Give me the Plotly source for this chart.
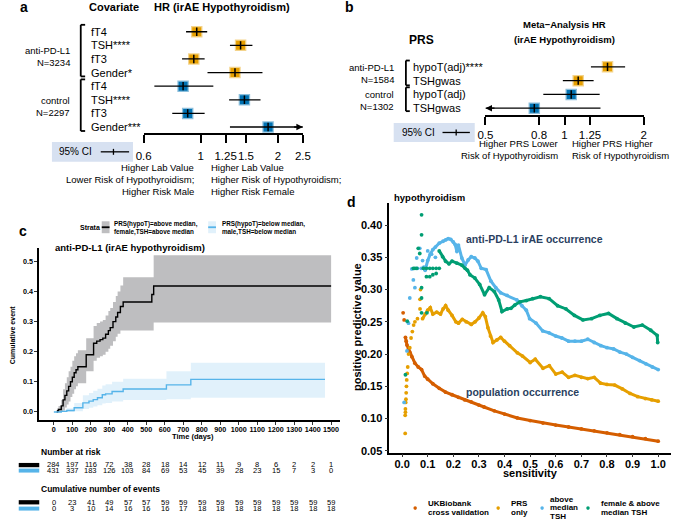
import numpy as np
import plotly.graph_objects as go

W, H = 679, 524
FONT = "Liberation Sans"
ORANGE = "#E69F00"
BLUE = "#0072B2"
ORANGE_L = "rgba(230,159,0,0.45)"
BLUE_L = "rgba(0,114,178,0.45)"

# ---------------- panel a data ----------------
a_labels = ["fT4", "TSH****", "fT3", "Gender*", "fT4", "TSH****", "fT3", "Gender***"]
a_grp = [0, 0, 0, 0, 1, 1, 1, 1]
a_hr = [0.965, 1.43, 0.94, 1.36, 0.854, 1.48, 0.89, 1.83]
a_lo = [0.877, 1.30, 0.846, 1.063, 0.66, 1.29, 0.775, 1.30]
a_hi = [1.06, 1.59, 1.036, 1.74, 1.12, 1.71, 1.036, 3.0]
a_ticks = [0.6, 1, 1.25, 1.5, 2, 2.5]
a_ticktext = ["0.6", "1", "1.25", "1.5", "2", "2.5"]
a_groups = ["anti-PD-L1<br>N=3234", "control<br>N=2297"]

# ---------------- panel b data ----------------
b_labels = ["hypoT(adj)****", "TSHgwas", "hypoT(adj)", "TSHgwas"]
b_grp = [0, 0, 1, 1]
b_hr = [1.457, 1.127, 1.06, 0.767]
b_lo = [1.26, 0.985, 0.83, 0.40]
b_hi = [1.70, 1.29, 1.36, 1.37]
b_ticks = [0.5, 0.8, 1, 1.25, 2]
b_ticktext = ["0.5", "0.8", "1", "1.25", "2"]
b_groups = ["anti-PD-L1<br>N=1584", "control<br>N=1302"]

# ---------------- panel c data ----------------
c_t = [15, 20, 25, 40, 50, 60, 70, 80, 90, 100, 110, 120, 130, 175, 215, 232, 250, 265, 280, 295, 305,
       320, 335, 345, 360, 375, 530, 540, 1500]
c_y = [0, 0.004, 0.008, 0.02, 0.04, 0.055, 0.07, 0.085, 0.10, 0.115, 0.13, 0.14, 0.15, 0.19, 0.228,
       0.235, 0.24, 0.245, 0.258, 0.27, 0.28, 0.30, 0.315, 0.33, 0.35, 0.365, 0.39, 0.418, 0.418]
c_lo = [0, 0, 0, 0, 0.005, 0.015, 0.025, 0.035, 0.05, 0.06, 0.075, 0.085, 0.095, 0.135, 0.17, 0.18,
        0.185, 0.19, 0.2, 0.21, 0.22, 0.235, 0.25, 0.26, 0.27, 0.27, 0.27, 0.297, 0.297]
c_hi = [0, 0.012, 0.02, 0.04, 0.075, 0.095, 0.115, 0.135, 0.15, 0.17, 0.185, 0.195, 0.205, 0.245,
        0.285, 0.295, 0.3, 0.305, 0.32, 0.335, 0.345, 0.365, 0.385, 0.40, 0.42, 0.447, 0.447, 0.52, 0.52]
c2_t = [0, 40, 70, 110, 157, 190, 213, 236, 262, 280, 315, 375, 609, 741, 1467]
c2_y = [0, 0.002, 0.005, 0.014, 0.03, 0.036, 0.041, 0.047, 0.057, 0.06, 0.068, 0.076, 0.09, 0.108, 0.108]
c2_lo = [0, 0, 0, 0.002, 0.01, 0.014, 0.018, 0.022, 0.028, 0.03, 0.035, 0.04, 0.042, 0.047, 0.047]
c2_hi = [0, 0.006, 0.012, 0.03, 0.055, 0.063, 0.07, 0.077, 0.088, 0.092, 0.1, 0.11, 0.135, 0.163, 0.163]
c_time_ticks = [0, 100, 200, 300, 400, 500, 600, 700, 800, 900, 1000, 1100, 1200, 1300, 1400, 1500]
risk_black = [284, 197, 116, 72, 38, 28, 18, 14, 12, 11, 9, 8, 6, 2, 2, 1]
risk_blue = [431, 337, 183, 126, 103, 84, 69, 53, 45, 39, 28, 23, 15, 7, 3, 0]
events_black = [0, 23, 41, 49, 57, 57, 59, 59, 59, 59, 59, 59, 59, 59, 59, 59]
events_blue = [0, 3, 10, 14, 16, 16, 16, 17, 18, 18, 18, 18, 18, 18, 18, 18]

# ---------------- panel d data ----------------
ukb_early_s = [0.004, 0.008]
ukb_early_p = [0.264, 0.253]
ukb_s = [0.013, 0.016, 0.019, 0.025, 0.03, 0.038, 0.05, 0.063, 0.076, 0.088, 0.10, 0.12, 0.145, 0.17,
         0.195, 0.22, 0.245, 0.27, 0.30, 0.32, 0.36, 0.40, 0.45, 0.50, 0.55, 0.60, 0.65, 0.70, 0.75,
         0.80, 0.85, 0.90, 0.95, 1.00]
ukb_p = [0.226, 0.22, 0.214, 0.208, 0.203, 0.196, 0.186, 0.180, 0.176, 0.166, 0.161, 0.154, 0.147,
         0.141, 0.137, 0.133, 0.129, 0.126, 0.121, 0.118, 0.112, 0.107, 0.101, 0.097, 0.093, 0.090,
         0.087, 0.084, 0.081, 0.078, 0.075, 0.072, 0.069, 0.065]
prs_early_s = [0.012, 0.012, 0.013, 0.013, 0.014, 0.015, 0.016, 0.017, 0.018, 0.02, 0.022, 0.025, 0.03,
               0.035, 0.04, 0.045, 0.05, 0.06, 0.07, 0.07, 0.072]
prs_early_p = [0.077, 0.105, 0.11, 0.115, 0.125, 0.13, 0.14, 0.15, 0.16, 0.17, 0.18, 0.20, 0.21, 0.225,
               0.235, 0.245, 0.25, 0.255, 0.27, 0.285, 0.30]
prs_s = [0.08, 0.09, 0.10, 0.11, 0.12, 0.135, 0.15, 0.16, 0.17, 0.18, 0.195, 0.21, 0.22, 0.235, 0.25,
         0.27, 0.285, 0.30, 0.315, 0.325, 0.335, 0.345, 0.355, 0.37, 0.385, 0.40, 0.42, 0.45, 0.47,
         0.50, 0.52, 0.55, 0.575, 0.60, 0.625, 0.65, 0.675, 0.70, 0.725, 0.75, 0.775, 0.80, 0.83,
         0.86, 0.89, 0.92, 0.95, 0.975, 1.0]
prs_p = [0.255, 0.262, 0.268, 0.272, 0.262, 0.265, 0.262, 0.27, 0.275, 0.268, 0.26, 0.25, 0.248,
         0.254, 0.25, 0.246, 0.25, 0.256, 0.264, 0.258, 0.241, 0.228, 0.218, 0.222, 0.226, 0.22,
         0.213, 0.202, 0.197, 0.187, 0.192, 0.178, 0.182, 0.169, 0.172, 0.164, 0.167, 0.164, 0.162,
         0.164, 0.155, 0.153, 0.152, 0.146, 0.139, 0.134, 0.131, 0.129, 0.127]
tsh_early_s = [0.008, 0.019, 0.025, 0.03, 0.038, 0.044, 0.05, 0.057, 0.069, 0.06, 0.075, 0.08, 0.085,
               0.1, 0.115, 0.13]
tsh_early_p = [0.125, 0.205, 0.248, 0.287, 0.332, 0.315, 0.303, 0.349, 0.364, 0.333, 0.333, 0.345,
               0.335, 0.36, 0.355, 0.35]
tsh_s = [0.09, 0.10, 0.11, 0.12, 0.13, 0.145, 0.16, 0.17, 0.18, 0.19, 0.20, 0.207, 0.214, 0.22, 0.233,
         0.246, 0.258, 0.27, 0.284, 0.296, 0.309, 0.328, 0.347, 0.366, 0.385, 0.41, 0.448, 0.468,
         0.485, 0.498, 0.523, 0.549, 0.574, 0.60, 0.624, 0.65, 0.675, 0.70, 0.725, 0.75, 0.776, 0.80,
         0.826, 0.851, 0.876, 0.90, 0.927, 0.952, 0.977, 1.0]
tsh_p = [0.33, 0.345, 0.355, 0.362, 0.366, 0.372, 0.375, 0.377, 0.379, 0.378, 0.374, 0.37, 0.359, 0.369,
         0.349, 0.338, 0.346, 0.351, 0.349, 0.344, 0.333, 0.331, 0.313, 0.303, 0.295, 0.291, 0.284,
         0.275, 0.268, 0.255, 0.248, 0.236, 0.233, 0.228, 0.225, 0.22, 0.22, 0.22, 0.223, 0.218,
         0.213, 0.21, 0.208, 0.203, 0.2, 0.195, 0.19, 0.185, 0.18, 0.176]
grn_early_s = [0.013, 0.02, 0.044, 0.05, 0.057, 0.063, 0.069, 0.076, 0.076, 0.076, 0.076, 0.076, 0.083,
               0.095, 0.108, 0.12, 0.133, 0.145, 0.095, 0.108, 0.12, 0.133, 0.097]
grn_early_p = [0.168, 0.251, 0.333, 0.333, 0.333, 0.364, 0.356, 0.416, 0.385, 0.303, 0.287, 0.264,
               0.333, 0.333, 0.333, 0.333, 0.333, 0.333, 0.32, 0.32, 0.323, 0.325, 0.264]
grn_s = [0.145, 0.158, 0.17, 0.183, 0.195, 0.214, 0.233, 0.246, 0.255, 0.265, 0.284, 0.303, 0.322,
         0.34, 0.36, 0.377, 0.39, 0.41, 0.425, 0.44, 0.46, 0.485, 0.51, 0.54, 0.574, 0.607, 0.64,
         0.673, 0.706, 0.74, 0.772, 0.806, 0.839, 0.872, 0.905, 0.938, 0.971, 0.996, 0.998]
grn_p = [0.36, 0.351, 0.344, 0.34, 0.344, 0.341, 0.338, 0.333, 0.33, 0.323, 0.318, 0.308, 0.292,
         0.303, 0.297, 0.284, 0.266, 0.27, 0.271, 0.276, 0.281, 0.283, 0.286, 0.289, 0.286, 0.275,
         0.27, 0.26, 0.253, 0.255, 0.26, 0.263, 0.255, 0.248, 0.242, 0.245, 0.237, 0.229, 0.218]
d_xticks = [0.0, 0.1, 0.2, 0.3, 0.4, 0.5, 0.6, 0.7, 0.8, 0.9, 1.0]
d_yticks = [0.05, 0.10, 0.15, 0.20, 0.25, 0.30, 0.35, 0.40]

C_RED, C_YEL, C_SKY, C_GRN = "#D55E00", "#E69F00", "#56B4E9", "#009E73"

fig = go.Figure()


def px(x):
    return x / W


def py(y):
    return 1 - y / H


def ann(text, x, y, size, bold=False, xanchor="left", align="left", angle=0, color="black"):
    fig.add_annotation(text=text, x=px(x), y=py(y), xref="paper", yref="paper", showarrow=False,
                       xanchor=xanchor, yanchor="middle", align=align, textangle=angle,
                       font=dict(family=FONT, size=size, color=color,
                                 weight="bold" if bold else "normal"))


def line_px(x0, y0, x1, y1, w=1.5, color="black"):
    fig.add_shape(type="line", xref="paper", yref="paper", x0=px(x0), y0=py(y0), x1=px(x1), y1=py(y1),
                  line=dict(color=color, width=w))


def rect_px(x0, y0, x1, y1, fill, lw=0, lc="black"):
    fig.add_shape(type="rect", xref="paper", yref="paper", x0=px(x0), y0=py(y0), x1=px(x1), y1=py(y1),
                  fillcolor=fill, line=dict(width=lw, color=lc))


def forest(xa, ya, labels, grp, hr, lo, hi, xmin, xmax, label_x, rowsize):
    n = len(labels)
    rows = list(range(n - 1, -1, -1))
    cols = [ORANGE, BLUE]
    lcols = [ORANGE_L, BLUE_L]
    for g in (0, 1):
        idx = [i for i in range(n) if grp[i] == g]
        fig.add_trace(go.Scatter(x=[hr[i] for i in idx], y=[rows[i] for i in idx], mode="markers",
                                 xaxis=xa, yaxis=ya,
                                 marker=dict(symbol="square", size=9, color=cols[g],
                                             line=dict(width=2.5, color=lcols[g]))))
    xs, ys = [], []
    for i in range(n):
        xs += [max(lo[i], xmin), min(hi[i], xmax), None]
        ys += [rows[i], rows[i], None]
    fig.add_trace(go.Scatter(x=xs, y=ys, mode="lines", xaxis=xa, yaxis=ya,
                             line=dict(color="black", width=1.3)))
    fig.add_trace(go.Scatter(x=hr, y=rows, mode="markers", xaxis=xa, yaxis=ya,
                             marker=dict(symbol="line-ns-open", size=6, color="black",
                                         line=dict(width=1.5, color="black"))))
    xr = xa
    yr = ya
    for i in range(n):
        if hi[i] > xmax:
            fig.add_annotation(x=np.log10(xmax), y=rows[i], ax=np.log10(xmax) - 0.04, ay=rows[i],
                               xref=xr, yref=yr, axref=xr, ayref=yr, text="", showarrow=True,
                               arrowhead=2, arrowsize=1, arrowwidth=1.3, arrowcolor="black")
        if lo[i] < xmin:
            fig.add_annotation(x=np.log10(xmin), y=rows[i], ax=np.log10(xmin) + 0.04, ay=rows[i],
                               xref=xr, yref=yr, axref=xr, ayref=yr, text="", showarrow=True,
                               arrowhead=2, arrowsize=1, arrowwidth=1.3, arrowcolor="black")
        fig.add_annotation(text=labels[i], x=px(label_x), y=rows[i], xref="paper", yref=yr,
                           showarrow=False, xanchor="left", yanchor="middle",
                           font=dict(family=FONT, size=rowsize, color="black"))
    fig.add_shape(type="line", xref=xr, yref=yr, x0=0, x1=0, y0=-0.5, y1=n - 0.49,
                  line=dict(color="black", width=1.5))


# ---------------- panel a ----------------
forest("x", "y", a_labels, a_grp, a_hr, a_lo, a_hi, 0.6, 2.5, 83, 11)
ann("a", 16, 7, 14, bold=True, xanchor="center")
ann("Covariate", 109, 7, 11, bold=True, xanchor="center")
ann("HR (irAE Hypothyroidism)", 219, 7, 11, bold=True, xanchor="center")
ann(a_groups[0], 66, 56.5, 9.5, xanchor="right", align="right")
ann(a_groups[1], 66, 107.5, 9.5, xanchor="right", align="right")
for (y0, y1) in [(25, 77), (80, 132)]:
    line_px(74.5, y0, 74.5, y1, 1.8)
    line_px(74.5, y0, 79, y0, 1.8)
    line_px(74.5, y1, 79, y1, 1.8)
rect_px(45, 143, 128, 163, "#D7E1F1")
ann("95% CI", 50, 153, 10)
line_px(95, 153, 124, 153, 1.3)
line_px(108, 150, 108, 156, 1.3)
ann("Higher Lab Value", 193, 169, 9.5, xanchor="right")
ann("Lower Risk of Hypothyroidism;", 193, 181, 9.5, xanchor="right")
ann("Higher Risk Male", 193, 193, 9.5, xanchor="right")
ann("Higher Lab Value", 206, 169, 9.5)
ann("Higher Risk of Hypothyroidism;", 206, 181, 9.5)
ann("Higher Risk Female", 206, 193, 9.5)

# ---------------- panel b ----------------
forest("x2", "y2", b_labels, b_grp, b_hr, b_lo, b_hi, 0.5, 2.0, 413, 11)
ann("b", 350, 7, 14, bold=True, xanchor="center")
ann("Meta\u2212Analysis HR", 570, 25, 9.5, bold=True, xanchor="center")
ann("(irAE Hypothyroidism)", 570, 40, 9.5, bold=True, xanchor="center")
ann("PRS", 423, 40, 12, bold=True, xanchor="center")
ann(b_groups[0], 397, 74.5, 9.5, xanchor="right", align="right")
ann(b_groups[1], 397, 101, 9.5, xanchor="right", align="right")
for (y0, y1) in [(61, 86), (88, 112)]:
    line_px(407.5, y0, 407.5, y1, 1.8)
    line_px(407.5, y0, 411.5, y0, 1.8)
    line_px(407.5, y1, 411.5, y1, 1.8)
rect_px(395, 124, 478, 143, "#D7E1F1")
ann("95% CI", 401, 133.5, 10)
line_px(445, 133.5, 473, 133.5, 1.3)
line_px(459, 130.5, 459, 136.5, 1.3)
ann("Higher PRS Lower", 565, 145, 9.5, xanchor="right")
ann("Risk of Hypothyroidism", 565, 157, 9.5, xanchor="right")
ann("Higher PRS Higher", 576, 145, 9.5)
ann("Risk of Hypothyroidism", 576, 157, 9.5)

# ---------------- panel c ----------------
fig.add_trace(go.Scatter(x=c_t, y=c_hi, mode="lines", line=dict(width=0, shape="hv"),
                         xaxis="x3", yaxis="y3"))
fig.add_trace(go.Scatter(x=c_t, y=c_lo, mode="lines", line=dict(width=0, shape="hv"), fill="tonexty",
                         fillcolor="rgb(190,190,192)", xaxis="x3", yaxis="y3"))
fig.add_trace(go.Scatter(x=c2_t, y=c2_hi, mode="lines", line=dict(width=0, shape="hv"),
                         xaxis="x3", yaxis="y3"))
fig.add_trace(go.Scatter(x=c2_t, y=c2_lo, mode="lines", line=dict(width=0, shape="hv"), fill="tonexty",
                         fillcolor="rgba(86,180,233,0.18)", xaxis="x3", yaxis="y3"))
fig.add_trace(go.Scatter(x=c_t, y=c_y, mode="lines", line=dict(width=1.4, shape="hv", color="black"),
                         xaxis="x3", yaxis="y3"))
fig.add_trace(go.Scatter(x=c2_t, y=c2_y, mode="lines", line=dict(width=1.4, shape="hv", color=C_SKY),
                         xaxis="x3", yaxis="y3"))
ann("c", 15, 233, 14, bold=True, xanchor="center")
ann("Strata", 72, 229.5, 7, bold=True)
rect_px(96, 223, 104, 235, "rgb(190,190,192)")
line_px(96, 229, 104, 229, 1.8)
ann("PRS(hypoT)=above median,<br>female,TSH=above median", 107, 230, 6.3, bold=True)
rect_px(205, 223, 213, 235, "rgba(86,180,233,0.18)")
line_px(205, 229, 213, 229, 1.8, C_SKY)
ann("PRS(hypoT)=below median,<br>male,TSH=below median", 217, 230, 6.3, bold=True)
ann("anti-PD-L1 (irAE hypothyroidism)", 46, 249, 9.5, bold=True)
ann("Cumulative event", 5, 337, 7, bold=True, xanchor="center", angle=-90)
ann("Time (days)", 189, 440, 7.5, bold=True, xanchor="center")
ann("Number at risk", 32, 455, 8.5, bold=True)
ann("Cumulative number of events", 32, 493, 8.5, bold=True)
rect_px(11, 466.5, 32, 470.8, "black")
rect_px(11, 472.2, 32, 476.2, C_SKY)
rect_px(11, 504, 32, 508.3, "black")
rect_px(11, 510.5, 32, 514.5, C_SKY)
for vals, yy in [(risk_black, 468.3), (risk_blue, 474.5), (events_black, 506.3), (events_blue, 512.5)]:
    for t, v in zip(c_time_ticks, vals):
        fig.add_annotation(text=str(v), x=t, y=py(yy), xref="x3", yref="paper", showarrow=False,
                           xanchor="center", yanchor="middle",
                           font=dict(family=FONT, size=7.5, color="black"))


# ---------------- panel d ----------------
def dots(s, p, col, lines):
    fig.add_trace(go.Scatter(x=s, y=p, mode="lines+markers" if lines else "markers",
                             xaxis="x4", yaxis="y4", line=dict(color=col, width=3),
                             marker=dict(color=col, size=3.8)))


dots(ukb_early_s, ukb_early_p, C_RED, False)
dots(ukb_s, ukb_p, C_RED, True)
dots(prs_early_s, prs_early_p, C_YEL, False)
dots(prs_s, prs_p, C_YEL, True)
dots(tsh_early_s, tsh_early_p, C_SKY, False)
dots(tsh_s, tsh_p, C_SKY, True)
dots(grn_early_s, grn_early_p, C_GRN, False)
dots(grn_s, grn_p, C_GRN, True)
ann("d", 352, 204, 14, bold=True, xanchor="center")
ann("hypothyroidism", 393, 199, 9.5, bold=True)
ann("positive predictive value", 358, 330, 11, bold=True, xanchor="center", angle=-90)
ann("sensitivity", 535, 477, 11, bold=True, xanchor="center")
fig.add_annotation(text="anti-PD-L1 irAE occurrence", x=0.242, y=0.379, xref="x4", yref="y4",
                   showarrow=False, xanchor="left", font=dict(family=FONT, size=10.5, weight="bold"))
fig.add_annotation(text="population occurrence", x=0.242, y=0.142, xref="x4", yref="y4",
                   showarrow=False, xanchor="left", font=dict(family=FONT, size=10.5, weight="bold"))
for cx, col in [(417, C_RED), (502, C_YEL), (547, C_SKY), (594, C_GRN)]:
    fig.add_shape(type="circle", xref="paper", yref="paper", x0=px(cx - 1.8), x1=px(cx + 1.8),
                  y0=py(512 + 1.8), y1=py(512 - 1.8), fillcolor=col, line=dict(width=0))
for txt, x, y in [("UKBiobank", 428, 507), ("cross validation", 428, 516.5),
                  ("PRS", 513, 507), ("only", 513, 516.5),
                  ("above", 553, 503), ("median", 553, 511.5), ("TSH", 553, 520),
                  ("female & above", 605, 507), ("median TSH", 605, 516.5)]:
    ann(txt, x, y, 8, bold=True)

# ---------------- layout ----------------
tf_forest = dict(family=FONT, size=11.5, color="black")
base_forest = dict(type="log", ticks="outside", ticklen=8, tickwidth=1.5, tickcolor="black",
                   showline=True, linecolor="black", linewidth=1.5, showgrid=False, zeroline=False,
                   tickfont=tf_forest, tickangle=0)
tf_c = dict(family=FONT, size=7.2, color="black", weight="bold")
tf_d = dict(family=FONT, size=11, color="black", weight="bold")
base_line = dict(ticks="outside", ticklen=3, tickwidth=1, tickcolor="#333", showline=True,
                 linecolor="black", linewidth=1.5, showgrid=False, zeroline=False, tickangle=0)

fig.update_layout(
    width=W, height=H, margin=dict(l=0, r=0, t=0, b=0), paper_bgcolor="white",
    plot_bgcolor="rgba(0,0,0,0)", showlegend=False,
    xaxis=dict(domain=[px(139), px(302)], range=[np.log10(0.6), np.log10(2.5)], anchor="y",
               tickvals=a_ticks, ticktext=a_ticktext, ticklabelstandoff=3, **base_forest),
    yaxis=dict(domain=[py(134), py(25)], range=[-0.44, 7.51], visible=False, anchor="x"),
    xaxis2=dict(domain=[px(489), px(651)], range=[np.log10(0.5), np.log10(2.0)], anchor="y2",
                tickvals=b_ticks, ticktext=b_ticktext, ticklabelstandoff=0, **base_forest),
    yaxis2=dict(domain=[py(116), py(60)], range=[-0.5, 3.53], visible=False, anchor="x2"),
    xaxis3=dict(domain=[px(32), px(340)], range=[-79, 1548], anchor="y3", tickvals=c_time_ticks,
                tickfont=tf_c, ticklabelstandoff=-1, **base_line),
    yaxis3=dict(domain=[py(423), py(250)], range=[-0.026, 0.544], anchor="x3",
                tickvals=[0, 0.1, 0.2, 0.3, 0.4, 0.5], tickformat=".1f", tickfont=tf_c, **base_line),
    xaxis4=dict(domain=[px(390.5), 1.0], range=[-0.05, 1.05], anchor="y4", tickvals=d_xticks,
                tickformat=".1f", tickfont=tf_d, ticklabelstandoff=-2, **base_line),
    yaxis4=dict(domain=[py(456), py(205)], range=[0.0474, 0.4336], anchor="x4", tickvals=d_yticks,
                tickformat=".2f", tickfont=tf_d, **base_line),
)

fig.write_html("out.html", config={"displayModeBar": False},
               post_script="document.body.style.margin='0';document.body.style.overflow='hidden';")
